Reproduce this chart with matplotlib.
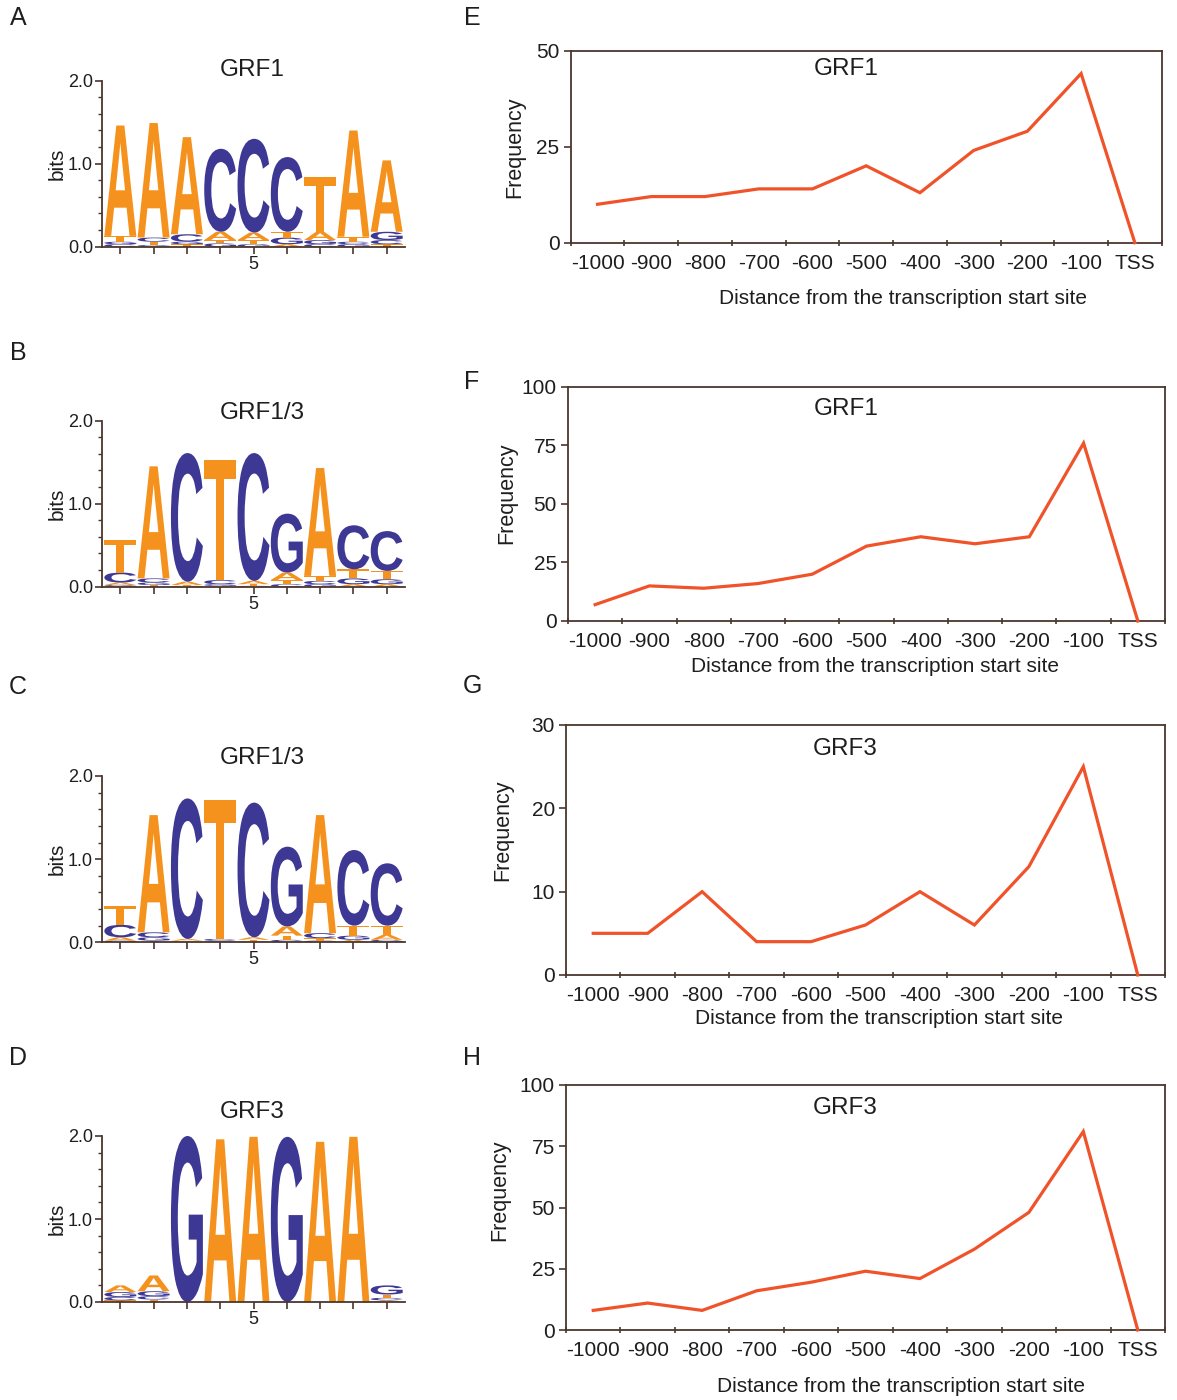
import matplotlib
matplotlib.use('Agg')
import matplotlib.pyplot as plt
from matplotlib.textpath import TextPath
from matplotlib.patches import PathPatch
from matplotlib.font_manager import FontProperties
from matplotlib.transforms import Affine2D
from matplotlib.ticker import MultipleLocator

plt.rcParams['font.family'] = ['Liberation Sans', 'DejaVu Sans']

# ---------------- data ----------------
categories = ['-1000', '-900', '-800', '-700', '-600', '-500',
              '-400', '-300', '-200', '-100', 'TSS']

freq_E = [10, 12, 12, 14, 14, 20, 13, 24, 29, 44, 0]
freq_F = [7, 15, 14, 16, 20, 32, 36, 33, 36, 76, 0]
freq_G = [5, 5, 10, 4, 4, 6, 10, 6, 13, 25, 0]
freq_H = [8, 11, 8, 16, 19.5, 24, 21, 33, 48, 81, 0]

# sequence logos: per position, letters stacked bottom -> top with heights (bits)
logo_A_letters = ['CGTA', 'GTCA', 'TGCA', 'GTAC', 'GTAC', 'AGTC', 'CGAT', 'GCTA', 'TCGA']
logo_A_heights = [[0.03, 0.03, 0.07, 1.33], [0.02, 0.04, 0.05, 1.38], [0.03, 0.03, 0.09, 1.17],
                  [0.04, 0.04, 0.10, 1.00], [0.03, 0.05, 0.09, 1.13], [0.03, 0.08, 0.07, 0.90],
                  [0.03, 0.05, 0.10, 0.66], [0.03, 0.03, 0.06, 1.28], [0.03, 0.05, 0.10, 0.86]]

logo_B_letters = ['GACT', 'TGCA', 'GTAC', 'AGCT', 'GTAC', 'CTAG', 'GCTA', 'AGTC', 'AGTC']
logo_B_heights = [[0.02, 0.03, 0.12, 0.39], [0.02, 0.03, 0.05, 1.35], [0.01, 0.01, 0.04, 1.55],
                  [0.01, 0.02, 0.05, 1.45], [0.01, 0.02, 0.04, 1.54], [0.03, 0.05, 0.09, 0.71],
                  [0.03, 0.04, 0.06, 1.30], [0.03, 0.07, 0.11, 0.53], [0.03, 0.06, 0.10, 0.48]]

logo_C_letters = ['GACT', 'TGCA', 'GTAC', 'AGCT', 'GTAC', 'CTAG', 'GTCA', 'AGTC', 'GATC']
logo_C_heights = [[0.02, 0.04, 0.15, 0.23], [0.02, 0.04, 0.06, 1.41], [0.01, 0.01, 0.02, 1.69],
                  [0.01, 0.01, 0.02, 1.67], [0.01, 0.02, 0.03, 1.62], [0.03, 0.05, 0.11, 0.96],
                  [0.02, 0.03, 0.06, 1.42], [0.03, 0.05, 0.12, 0.91], [0.03, 0.06, 0.11, 0.75]]

logo_D_letters = ['TCGA', 'TCGA', 'G', 'A', 'A', 'G', 'A', 'A', 'ACTG']
logo_D_heights = [[0.02, 0.04, 0.06, 0.08], [0.03, 0.04, 0.06, 0.19], [2.00], [1.96], [1.99],
                  [1.99], [1.93], [1.99], [0.02, 0.03, 0.04, 0.11]]

logo_titles = ['GRF1', 'GRF1/3', 'GRF1/3', 'GRF3']
line_titles = ['GRF1', 'GRF1', 'GRF3', 'GRF3']
line_ymax = [50, 100, 30, 100]
line_yticks = [[0, 25, 50], [0, 25, 50, 75, 100], [0, 10, 20, 30], [0, 25, 50, 75, 100]]

# ---------------- style ----------------
ORANGE = '#F5921E'
BLUE = '#3D3893'
LINE = '#F0532A'
FRAME = '#4a362e'
TXT = '#1e1e1e'
letter_colors = {'A': ORANGE, 'T': ORANGE, 'C': BLUE, 'G': BLUE}

W, H = 1177, 1400
fig = plt.figure(figsize=(W / 100, H / 100), dpi=100)


def ax_px(l, t, r, b):
    return fig.add_axes([l / W, 1 - b / H, (r - l) / W, (b - t) / H])


def ftext(x, y, s, **kw):
    fig.text(x / W, 1 - y / H, s, **kw)


letter_font = FontProperties(family='Liberation Sans', weight='bold')


def draw_letter(ax, ch, x, y0, h, w=0.96):
    tp = TextPath((0, 0), ch, size=1, prop=letter_font)
    bb = tp.get_extents()
    tr = (Affine2D().translate(-bb.x0, -bb.y0)
          .scale(w / bb.width, h / bb.height)
          .translate(x - w / 2, y0))
    ax.add_patch(PathPatch(tr.transform_path(tp), facecolor=letter_colors[ch],
                           edgecolor='none'))


# ---------------- logos ----------------
logo_axes_px = [(102, 80.7, 405, 246.7), (102, 420.7, 405, 586.7),
                (102, 776, 405, 942.3), (102, 1136, 405, 1302)]
logo_letters = [logo_A_letters, logo_B_letters, logo_C_letters, logo_D_letters]
logo_heights = [logo_A_heights, logo_B_heights, logo_C_heights, logo_D_heights]
logo_title_pos = [(252, 70), (262, 413), (262, 758), (252, 1112)]

for i in range(4):
    l, t, r, b = logo_axes_px[i]
    ax = ax_px(l, t, r, b)
    for p, (lets, hs) in enumerate(zip(logo_letters[i], logo_heights[i])):
        y = 0.0
        for ch, h in zip(lets, hs):
            draw_letter(ax, ch, p + 1, y, h)
            y += h
    ax.set_xlim(0.45, 9.55)
    ax.set_ylim(0, 2)
    for s in ['top', 'right']:
        ax.spines[s].set_visible(False)
    for s in ['left', 'bottom']:
        ax.spines[s].set_color(FRAME)
        ax.spines[s].set_linewidth(1.3)
    ax.set_xticks(range(1, 10))
    ax.set_xticklabels(['' if k != 5 else '5' for k in range(1, 10)])
    ax.set_yticks([0, 1, 2])
    ax.set_yticklabels(['0.0', '1.0', '2.0'])
    ax.yaxis.set_minor_locator(MultipleLocator(0.2))
    ax.tick_params(axis='both', which='major', colors=FRAME, labelcolor=TXT,
                   labelsize=13, length=5, width=1.2, pad=1.5)
    ax.tick_params(axis='y', which='minor', colors=FRAME, length=3, width=1.0)
    ax.patch.set_alpha(0)
    ftext(57, (t + b) / 2, 'bits', rotation=90, ha='center', va='center',
          fontsize=15, color=TXT)
    tx, ty = logo_title_pos[i]
    ftext(tx, ty, logo_titles[i], ha='center', va='center', fontsize=17.5, color=TXT)

# ---------------- line plots ----------------
line_axes_px = [(570.7, 50.5, 1161.7, 242.7), (568, 387, 1165, 621),
                (566, 725, 1165, 975), (566, 1085, 1165, 1330)]
freqs = [freq_E, freq_F, freq_G, freq_H]
xlabel_pos = [(903, 298), (875, 666), (879, 1019), (901, 1386)]
ylabel_pos = [(515, 147), (507, 493), (503, 830), (500, 1190)]

for i in range(4):
    l, t, r, b = line_axes_px[i]
    ax = ax_px(l, t, r, b)
    xs = list(range(len(categories)))
    ax.plot(xs, freqs[i], color=LINE, lw=2.3, solid_joinstyle='miter',
            clip_on=False, zorder=3)
    ax.set_xlim(-0.5, len(categories) - 0.5)
    ax.set_ylim(0, line_ymax[i])
    ax.set_yticks(line_yticks[i])
    ax.set_xticks(xs)
    ax.set_xticklabels(categories)
    ax.set_xticks([k - 0.5 for k in range(len(categories) + 1)], minor=True)
    ax.tick_params(axis='x', which='major', length=0, labelsize=15, labelcolor=TXT, pad=8)
    ax.tick_params(axis='x', which='minor', length=4, width=1.2, colors=FRAME,
                   direction='inout')
    ax.tick_params(axis='y', which='major', length=5, width=1.2, colors=FRAME,
                   labelcolor=TXT, labelsize=15, pad=3)
    for s in ax.spines.values():
        s.set_color(FRAME)
        s.set_linewidth(1.3)
    ax.text(0.466, 0.905, line_titles[i], transform=ax.transAxes, ha='center',
            va='center', fontsize=17.5, color=TXT)
    x0, y0 = xlabel_pos[i]
    ftext(x0, y0, 'Distance from the transcription start site', ha='center',
          va='center', fontsize=15, color=TXT)
    x1, y1 = ylabel_pos[i]
    ftext(x1, y1, 'Frequency', rotation=90, ha='center', va='center',
          fontsize=15.5, color=TXT)

# ---------------- panel letters ----------------
panel_letters = ['A', 'B', 'C', 'D', 'E', 'F', 'G', 'H']
panel_pos = [(18, 18), (18, 353), (18, 687), (18, 1058),
             (472, 18), (472, 382), (472, 686), (472, 1058)]
for lab, (px, py) in zip(panel_letters, panel_pos):
    ftext(px, py, lab, ha='center', va='center', fontsize=18, color=TXT)

fig.savefig('out.png', dpi=100)
